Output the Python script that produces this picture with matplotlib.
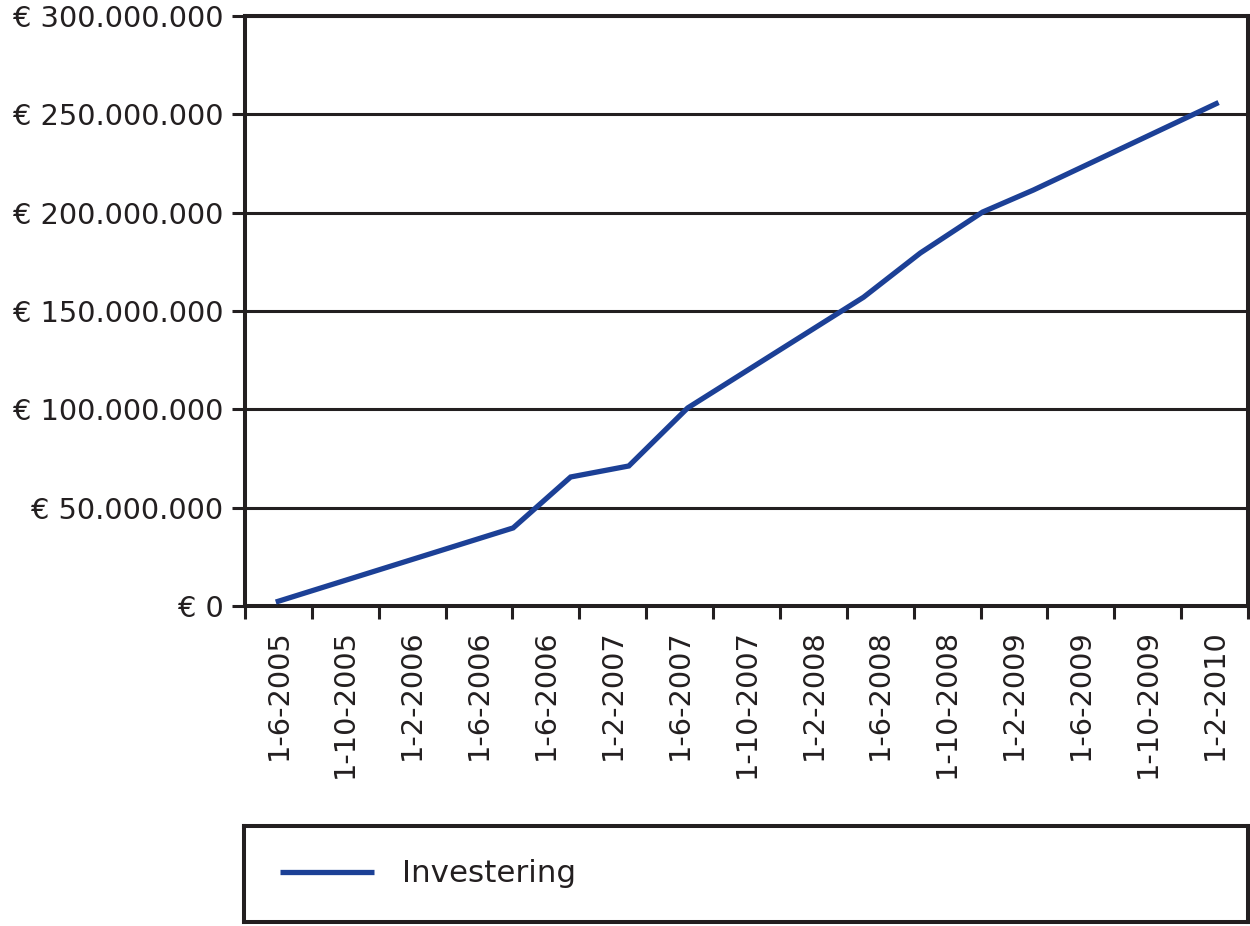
import matplotlib.pyplot as plt
from matplotlib.lines import Line2D

plt.rcParams["font.family"] = ["DejaVu Sans"]

# category labels on the x axis (as printed in the source, incl. the repeated one)
periods = ["1-6-2005", "1-10-2005", "1-2-2006", "1-6-2006", "1-6-2006",
           "1-2-2007", "1-6-2007", "1-10-2007", "1-2-2008", "1-6-2008",
           "1-10-2008", "1-2-2009", "1-6-2009", "1-10-2009", "1-2-2010"]

# line vertices: position in category units, value in euro
inv_pos = [-0.04, 3.51, 4.37, 5.24, 6.12, 8.75, 9.60, 10.53, 11.29, 14.06]
inv_val = [2.0e6, 39.7e6, 65.6e6, 71.2e6, 100.7e6, 157.0e6, 179.5e6,
           200.3e6, 211.5e6, 256.0e6]

y_ticks = [0, 50e6, 100e6, 150e6, 200e6, 250e6, 300e6]
y_labels = ["€ 0", "€ 50.000.000", "€ 100.000.000", "€ 150.000.000",
            "€ 200.000.000", "€ 250.000.000", "€ 300.000.000"]

ink = "#231f20"
blue = "#1c4096"
W, H = 1250, 926
fs = 20.8

fig = plt.figure(figsize=(W / 100, H / 100), dpi=100)
ax = fig.add_axes([245 / W, 1 - 606 / H, 1003 / W, 590 / H])

ax.plot(inv_pos, inv_val, color=blue, lw=3.8, solid_capstyle="butt",
        solid_joinstyle="miter", zorder=3)

ax.set_xlim(-0.5, len(periods) - 0.5)
ax.set_ylim(0, 300e6)

ax.set_yticks(y_ticks)
ax.set_yticklabels(y_labels)
ax.yaxis.grid(True, color=ink, lw=2.2)
ax.set_axisbelow(True)

# ticks at category boundaries, labels at category centres
ax.set_xticks([i - 0.5 for i in range(len(periods) + 1)])
ax.set_xticklabels([])
ax.set_xticks(range(len(periods)), minor=True)
ax.set_xticklabels(periods, minor=True, rotation=90, va="top", ha="center")

ax.tick_params(axis="both", which="major", length=9.5, width=2.2,
               color=ink, direction="out")
ax.tick_params(axis="x", which="minor", length=0, pad=16.5)
ax.tick_params(axis="y", pad=6)
ax.tick_params(which="both", labelsize=fs, labelcolor=ink)

for s in ax.spines.values():
    s.set_color(ink)
    s.set_linewidth(2.9)

# legend box below the chart
lax = fig.add_axes([244 / W, 4 / H, 1004 / W, 96 / H])
lax.set_xticks([])
lax.set_yticks([])
for s in lax.spines.values():
    s.set_color(ink)
    s.set_linewidth(2.9)
handles = [Line2D([], [], color=blue, lw=3.8, solid_capstyle="butt")]
leg = lax.legend(handles, ["Investering"], loc="center left", frameon=False,
                 fontsize=fs + 1.5, handlelength=3.05, handletextpad=0.9,
                 borderaxespad=0, borderpad=1.15, labelcolor=ink)

fig.savefig("out.png", dpi=100)
